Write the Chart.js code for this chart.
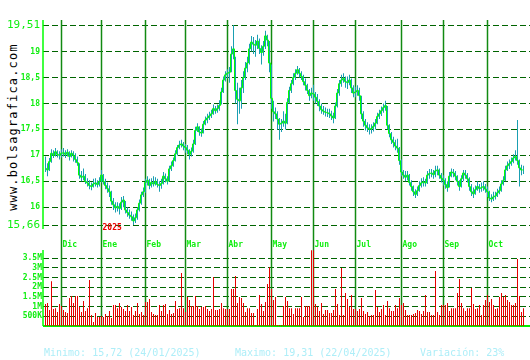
<!DOCTYPE html>
<html lang="es">
<head>
<meta charset="UTF-8">
<title>bolsagrafica</title>
<script src="https://cdn.jsdelivr.net/npm/chart.js"></script>
<style>
  body { margin: 0; background: #fff; width: 530px; height: 360px; overflow: hidden; position: relative; font-family: 'DejaVu Sans Mono', monospace; }
  canvas { position: absolute; left: 0; }
  #precio { top: 0; }
  #volumen { top: 240px; }
  .marca { position: absolute; left: 13px; top: 127px; transform: translate(-50%, -50%) rotate(-90deg); font-size: 12px; letter-spacing: 1.15px; color: #000; white-space: nowrap; }
  .pie { position: absolute; top: 347px; font-size: 10px; color: #aeeef8; white-space: nowrap; }
</style>
</head>
<body>

<div class="marca">www.bolsagrafica.com</div>
<canvas id="precio" width="530" height="250"></canvas>
<canvas id="volumen" width="530" height="110"></canvas>
<div class="pie" style="left:44px">Minimo: 15,72 (24/01/2025)</div>
<div class="pie" style="left:235px">Maximo: 19,31 (22/04/2025)</div>
<div class="pie" style="left:420px">Variación: 23%</div>

<script>
// cotizacion diaria (nov 2024 - oct 2025)
const cierre = [
  16.75,16.72,16.88,17.04,17.0,17.07,17.02,17.0,17.04,17.05,
  17.02,17.06,16.98,17.04,17.0,16.92,16.86,16.62,16.58,16.6,
  16.5,16.47,16.42,16.4,16.45,16.47,16.44,16.5,16.62,16.5,
  16.42,16.36,16.3,16.12,16.05,15.99,16.02,15.98,16.1,16.14,
  15.95,15.9,15.85,15.82,15.74,15.8,15.95,16.08,16.24,16.3,
  16.48,16.52,16.42,16.48,16.45,16.5,16.44,16.42,16.46,16.6,
  16.55,16.5,16.74,16.8,16.9,17.03,17.15,17.2,17.22,17.18,
  17.15,17.1,17.02,17.08,17.22,17.48,17.55,17.45,17.43,17.6,
  17.68,17.72,17.76,17.8,17.9,17.86,17.9,17.96,18.22,18.45,
  18.55,18.58,18.6,18.95,19.05,18.25,18.08,18.05,18.3,18.5,
  18.68,18.78,19.05,19.18,19.14,19.12,19.2,19.06,18.98,19.1,
  19.3,19.22,18.78,18.1,17.84,17.8,17.7,17.6,17.62,17.66,
  17.62,18.02,18.25,18.38,18.5,18.58,18.65,18.58,18.52,18.42,
  18.35,18.25,18.15,18.2,18.18,18.12,18.04,17.95,17.88,17.85,
  17.83,17.82,17.8,17.76,17.72,17.95,18.2,18.38,18.45,18.48,
  18.42,18.4,18.45,18.3,18.2,18.22,18.25,18.15,17.8,17.66,
  17.58,17.53,17.5,17.52,17.56,17.62,17.75,17.8,17.86,17.92,
  17.96,17.58,17.42,17.3,17.25,17.18,17.14,16.9,16.68,16.62,
  16.58,16.62,16.48,16.4,16.3,16.25,16.32,16.42,16.47,16.49,
  16.47,16.62,16.65,16.66,16.63,16.7,16.72,16.62,16.56,16.52,
  16.44,16.38,16.6,16.68,16.66,16.6,16.5,16.4,16.55,16.66,
  16.62,16.55,16.4,16.3,16.26,16.34,16.4,16.36,16.38,16.4,
  16.35,16.3,16.18,16.16,16.2,16.22,16.28,16.32,16.45,16.52,
  16.72,16.8,16.84,16.88,16.95,16.98,16.9,16.76,16.72,16.72
];
const maximo = [
  16.98,16.85,16.95,17.12,17.1,17.14,17.1,17.08,17.12,17.14,
  17.1,17.12,17.08,17.1,17.08,17.04,16.98,16.85,16.7,16.75,
  16.64,16.56,16.52,16.48,16.55,16.56,16.52,16.58,16.72,16.64,
  16.55,16.48,16.42,16.32,16.18,16.1,16.1,16.08,16.2,16.22,
  16.12,16.0,15.96,15.92,15.86,15.88,16.0,16.15,16.3,16.38,
  16.55,16.6,16.55,16.56,16.6,16.58,16.55,16.5,16.55,16.68,
  16.65,16.6,16.8,16.88,16.96,17.1,17.2,17.28,17.3,17.26,
  17.22,17.2,17.12,17.15,17.3,17.55,17.62,17.56,17.52,17.66,
  17.75,17.8,17.84,17.88,17.98,17.95,17.98,18.06,18.3,18.52,
  18.62,18.66,18.7,19.1,19.51,18.9,18.4,18.3,18.45,18.62,
  18.8,18.9,19.15,19.3,19.28,19.22,19.32,19.25,19.12,19.2,
  19.4,19.32,19.2,18.75,18.05,17.92,17.85,17.72,17.7,17.85,
  17.8,18.1,18.32,18.45,18.58,18.66,18.72,18.68,18.62,18.55,
  18.48,18.38,18.28,18.3,18.36,18.22,18.18,18.08,18.0,17.95,
  17.92,17.9,17.9,17.86,17.82,18.02,18.28,18.45,18.55,18.58,
  18.52,18.52,18.55,18.48,18.35,18.32,18.35,18.3,18.15,17.85,
  17.7,17.64,17.6,17.6,17.64,17.7,17.82,17.88,17.94,18.0,
  18.05,17.95,17.6,17.45,17.36,17.3,17.32,17.16,16.92,16.72,
  16.7,16.7,16.64,16.52,16.42,16.35,16.4,16.5,16.56,16.58,
  16.55,16.7,16.74,16.74,16.72,16.8,16.8,16.75,16.66,16.62,
  16.56,16.5,16.68,16.75,16.74,16.7,16.62,16.52,16.62,16.72,
  16.72,16.66,16.58,16.45,16.38,16.42,16.5,16.45,16.48,16.5,
  16.45,16.4,16.32,16.25,16.3,16.3,16.36,16.4,16.52,16.6,
  16.8,16.88,16.92,16.96,17.02,17.1,17.68,16.92,16.82,16.8
];
const minimo = [
  16.68,16.6,16.7,16.86,16.95,16.98,16.96,16.92,16.96,16.98,
  16.95,16.98,16.9,16.96,16.88,16.86,16.8,16.55,16.5,16.52,
  16.45,16.4,16.35,16.33,16.38,16.4,16.38,16.4,16.48,16.44,
  16.35,16.28,16.2,16.05,15.95,15.9,15.92,15.86,15.95,16.0,
  15.88,15.82,15.78,15.74,15.66,15.7,15.76,15.92,16.05,16.2,
  16.28,16.42,16.35,16.38,16.4,16.42,16.38,16.3,16.36,16.44,
  16.48,16.44,16.5,16.7,16.78,16.88,17.0,17.12,17.15,17.1,
  17.05,17.02,16.92,16.98,17.05,17.2,17.45,17.38,17.36,17.42,
  17.58,17.62,17.68,17.72,17.78,17.8,17.82,17.86,17.98,18.2,
  18.42,18.48,18.4,18.6,18.85,18.0,17.6,17.8,17.9,18.2,
  18.45,18.6,18.75,19.0,18.95,18.9,19.05,18.95,18.75,18.92,
  19.05,19.1,18.6,17.9,17.65,17.7,17.5,17.3,17.45,17.55,
  17.5,17.6,18.0,18.2,18.35,18.45,18.55,18.5,18.45,18.35,
  18.25,18.18,18.05,18.1,18.05,18.0,17.95,17.85,17.8,17.78,
  17.75,17.74,17.72,17.68,17.62,17.7,17.92,18.15,18.32,18.4,
  18.3,18.28,18.35,18.2,18.12,18.12,18.15,18.05,17.7,17.55,
  17.48,17.45,17.4,17.42,17.46,17.5,17.6,17.7,17.76,17.82,
  17.86,17.5,17.35,17.22,17.15,17.1,17.05,16.82,16.6,16.55,
  16.5,16.52,16.42,16.32,16.22,16.18,16.22,16.3,16.38,16.4,
  16.4,16.45,16.55,16.58,16.55,16.58,16.62,16.55,16.48,16.42,
  16.36,16.3,16.38,16.58,16.58,16.52,16.42,16.32,16.38,16.5,
  16.55,16.48,16.32,16.22,16.18,16.24,16.32,16.28,16.3,16.32,
  16.28,16.2,16.12,16.1,16.12,16.15,16.2,16.25,16.3,16.42,
  16.5,16.7,16.74,16.8,16.85,16.9,16.82,16.4,16.62,16.64
];
// volumen en millones
const volumen = [
  1.13,1.18,0.82,2.3,0.87,0.92,0.72,1.13,1.03,0.82,
  0.72,0.67,1.44,1.54,1.18,1.54,1.54,0.98,0.72,1.29,
  0.77,0.92,2.37,0.57,0.21,0.67,0.46,0.46,0.51,0.46,
  0.62,0.51,0.77,0.41,1.08,1.08,0.92,1.18,0.98,0.87,
  0.77,1.08,0.77,0.98,0.57,0.77,1.18,0.62,0.72,0.57,
  1.23,1.23,1.39,0.72,0.62,0.57,0.57,1.08,0.77,1.08,
  1.13,0.62,0.82,0.62,0.67,1.29,0.87,0.92,2.73,0.92,
  0.72,1.49,1.34,1.03,1.03,1.54,1.03,0.87,0.98,0.98,
  1.03,0.87,0.77,0.87,2.52,0.82,0.82,0.87,1.18,0.92,
  0.87,0.87,0.87,1.9,1.9,2.57,1.18,1.49,1.44,1.18,
  0.72,0.92,0.92,0.67,0.67,0.05,0.87,1.6,1.13,0.77,
  1.23,2.16,3.03,1.9,1.34,1.49,0.05,0.05,0.05,
  1.03,1.49,1.29,0.92,0.92,0.62,0.92,0.92,0.92,1.49,
  0.46,1.03,1.03,1.03,3.9,3.9,1.13,0.98,0.77,1.18,
  0.62,0.82,0.82,0.67,0.67,0.82,1.9,1.13,0.57,2.98,
  0.57,1.7,1.39,0.98,
  1.6,0.87,0.87,0.77,0.87,1.44,0.77,0.62,0.72,0.51,
  0.57,0.57,1.85,0.98,0.72,0.87,1.08,0.57,1.29,0.92,
  0.77,0.77,1.08,0.92,1.44,1.08,1.18,0.82,0.57,0.57,
  0.57,0.62,0.67,0.82,0.77,0.62,0.77,1.6,0.72,0.72,
  0.57,0.57,2.83,0.72,0.57,1.08,1.08,1.08,1.18,0.77,
  0.92,0.92,0.92,1.7,2.42,1.18,0.92,0.77,0.92,0.92,
  1.96,1.13,0.87,0.92,1.08,0.57,1.08,1.34,1.6,1.23,
  1.39,1.08,0.87,0.92,1.49,1.7,1.49,1.6,1.34,1.23,
  1.08,1.08,1.18,3.45,1.54,0.72,0.92
];
const meses = ['Dic','Ene','Feb','Mar','Abr','May','Jun','Jul','Ago','Sep','Oct'];
const inicioMes = [8, 28, 50, 70, 91, 113, 134, 155, 178, 199, 221];
const anio = '2025';
const anioMes = 1;
const ticksPrecio = [15.66, 16, 16.5, 17, 17.5, 18, 18.5, 19, 19.51];
const ticksVolumen = [0.5, 1, 1.5, 2, 2.5, 3, 3.5];

const dias = cierre.map((c, i) => i);
const mono = 'DejaVu Sans Mono';
const verde = '#11ee11';

const ejeX = {
  type: 'linear', display: false, offset: false,
  min: -1.25, max: 242.25
};

const lineasMes = {
  id: 'lineasMes',
  beforeDatasetsDraw(chart, args, opts) {
    const ctx = chart.ctx, x = chart.scales.x, a = chart.chartArea;
    ctx.save();
    ctx.strokeStyle = '#128a12';
    ctx.lineWidth = 1.5;
    inicioMes.forEach(i => {
      const px = x.getPixelForValue(i);
      ctx.beginPath();
      ctx.moveTo(px, opts.arriba != null ? opts.arriba : a.top);
      ctx.lineTo(px, opts.abajo != null ? opts.abajo : a.bottom);
      ctx.stroke();
    });
    // eje izquierdo
    ctx.strokeStyle = '#00ff00';
    ctx.lineWidth = 1.5;
    ctx.beginPath();
    ctx.moveTo(a.left, opts.ejeArriba != null ? opts.ejeArriba : a.top);
    ctx.lineTo(a.left, opts.ejeAbajo != null ? opts.ejeAbajo : a.bottom);
    ctx.stroke();
    if (opts.base) {
      ctx.strokeStyle = '#00ee00';
      ctx.lineWidth = 2;
      ctx.beginPath();
      ctx.moveTo(a.left, a.bottom);
      ctx.lineTo(a.right, a.bottom);
      ctx.stroke();
    }
    ctx.restore();
  }
};

const etiquetasMes = {
  id: 'etiquetasMes',
  afterDraw(chart) {
    const ctx = chart.ctx, x = chart.scales.x;
    ctx.save();
    ctx.font = 'bold 8px "' + mono + '"';
    ctx.textAlign = 'left';
    ctx.textBaseline = 'middle';
    ctx.fillStyle = verde;
    meses.forEach((m, k) => {
      ctx.fillText(m, x.getPixelForValue(inicioMes[k]) + 1, 245);
    });
    ctx.fillStyle = '#ee0000';
    ctx.fillText(anio, x.getPixelForValue(inicioMes[anioMes]) + 1, 228);
    ctx.restore();
  }
};

new Chart(document.getElementById('precio'), {
  data: {
    labels: dias,
    datasets: [
      {
        type: 'line', data: cierre, order: 0,
        borderColor: '#00ff00', borderWidth: 1, pointRadius: 0,
        stepped: 'middle', tension: 0
      },
      {
        type: 'bar', data: minimo.map((l, i) => [l, maximo[i]]), order: 1,
        backgroundColor: '#1a9fb2', barThickness: 1, inflateAmount: 0
      }
    ]
  },
  options: {
    responsive: false, animation: false, devicePixelRatio: 1,
    layout: { padding: { top: 25, bottom: 25, left: 0, right: 0 } },
    plugins: {
      legend: { display: false }, tooltip: { enabled: false },
      lineasMes: { arriba: 20, abajo: 250, ejeArriba: 20, ejeAbajo: 229 }
    },
    scales: {
      x: ejeX,
      y: {
        min: 15.66, max: 19.51,
        afterBuildTicks: s => { s.ticks = ticksPrecio.map(v => ({ value: v })); },
        afterFit: s => { s.width = 43; },
        grid: { color: '#006400', lineWidth: 1, drawTicks: false },
        border: { display: false, dash: [6, 3] },
        ticks: {
          color: verde, padding: 3,
          callback: v => String(v).replace('.', ','),
          font: c => (c.tick && (c.tick.value === 15.66 || c.tick.value === 19.51))
            ? { family: mono, size: 11 }
            : { family: mono, size: 8, weight: 'bold' }
        }
      }
    }
  },
  plugins: [lineasMes, etiquetasMes]
});

new Chart(document.getElementById('volumen'), {
  type: 'bar',
  data: {
    labels: dias,
    datasets: [{
      data: volumen, backgroundColor: '#e60000', barThickness: 1, inflateAmount: 0
    }]
  },
  options: {
    responsive: false, animation: false, devicePixelRatio: 1,
    layout: { padding: { top: 10, bottom: 24, left: 0, right: 0 } },
    plugins: {
      legend: { display: false }, tooltip: { enabled: false },
      lineasMes: { base: true }
    },
    scales: {
      x: ejeX,
      y: {
        min: 0, max: 3.912,
        afterBuildTicks: s => { s.ticks = ticksVolumen.map(v => ({ value: v })); },
        afterFit: s => { s.width = 43; },
        grid: { color: '#006400', lineWidth: 1, drawTicks: false },
        border: { display: false, dash: [6, 3] },
        ticks: {
          color: verde, padding: 1,
          font: { family: mono, size: 8, weight: 'bold' },
          callback: v => v < 1 ? (v * 1000) + 'K' : v + 'M'
        }
      }
    }
  },
  plugins: [lineasMes]
});
</script>
</body>
</html>
